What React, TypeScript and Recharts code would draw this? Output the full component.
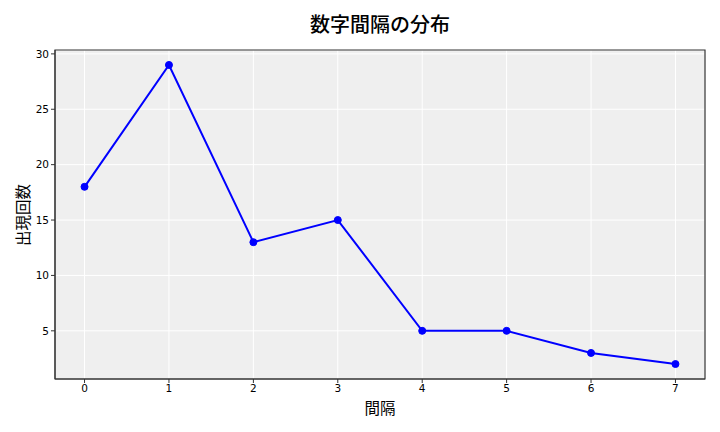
import React from "react";
import {
  LineChart,
  Line,
  XAxis,
  YAxis,
  CartesianGrid,
  ReferenceArea,
} from "recharts";

const intervals = [0, 1, 2, 3, 4, 5, 6, 7];
const counts = [18, 29, 13, 15, 5, 5, 3, 2];
const xTicks = [0, 1, 2, 3, 4, 5, 6, 7];
const yTicks = [5, 10, 15, 20, 25, 30];

const title = "数字間隔の分布";
const xLabel = "間隔";
const yLabel = "出現回数";

const data = intervals.map((g, i) => ({ g, n: counts[i] }));

const cjk = "'Noto Sans CJK JP', 'Noto Sans', sans-serif";
const tickStyle = { fill: "#000", fontSize: 10.5, fontFamily: "'DejaVu Sans', sans-serif" };

export default function App() {
  return (
    <div
      style={{
        position: "fixed",
        left: 0,
        top: 0,
        width: 720,
        height: 432,
        background: "#fff",
      }}
    >
      <LineChart
        width={720}
        height={432}
        data={data}
        margin={{ top: 50, right: 15, bottom: 0, left: 0 }}
      >
        <CartesianGrid stroke="#ffffff" strokeWidth={1} fill="#efefef" />
        <XAxis
          dataKey="g"
          type="number"
          domain={[-0.35, 7.35]}
          ticks={xTicks}
          allowDataOverflow
          tick={tickStyle}
          tickLine={{ stroke: "#333" }}
          tickSize={4}
          axisLine={{ stroke: "#333" }}
          height={53}
        />
        <YAxis
          type="number"
          domain={[0.65, 30.35]}
          ticks={yTicks}
          allowDataOverflow
          tick={tickStyle}
          tickLine={{ stroke: "#333" }}
          tickSize={4}
          axisLine={{ stroke: "#333" }}
          width={55}
        />
        <ReferenceArea
          x1={-0.35}
          x2={7.35}
          y1={0.65}
          y2={30.35}
          fill="none"
          fillOpacity={0}
          stroke="#333"
          strokeWidth={1.2}
          ifOverflow="visible"
        />
        <Line
          dataKey="n"
          stroke="#0000ff"
          strokeWidth={2}
          dot={{ r: 3.5, fill: "#0000ff", stroke: "#0000ff", strokeWidth: 1 }}
          isAnimationActive={false}
        />
      </LineChart>
      <div
        style={{
          position: "absolute",
          left: 280,
          width: 200,
          top: 10,
          textAlign: "center",
          fontFamily: cjk,
          fontSize: 20,
          fontWeight: 500,
          lineHeight: "28px",
          color: "#000",
        }}
      >
        {title}
      </div>
      <div
        style={{
          position: "absolute",
          left: 330,
          width: 100,
          top: 396,
          textAlign: "center",
          fontFamily: cjk,
          fontSize: 15.5,
          lineHeight: "22px",
          color: "#000",
        }}
      >
        {xLabel}
      </div>
      <div
        style={{
          position: "absolute",
          left: 22 - 50,
          top: 215 - 11,
          width: 100,
          textAlign: "center",
          fontFamily: cjk,
          fontSize: 15.5,
          lineHeight: "22px",
          color: "#000",
          transform: "rotate(-90deg)",
        }}
      >
        {yLabel}
      </div>
    </div>
  );
}
